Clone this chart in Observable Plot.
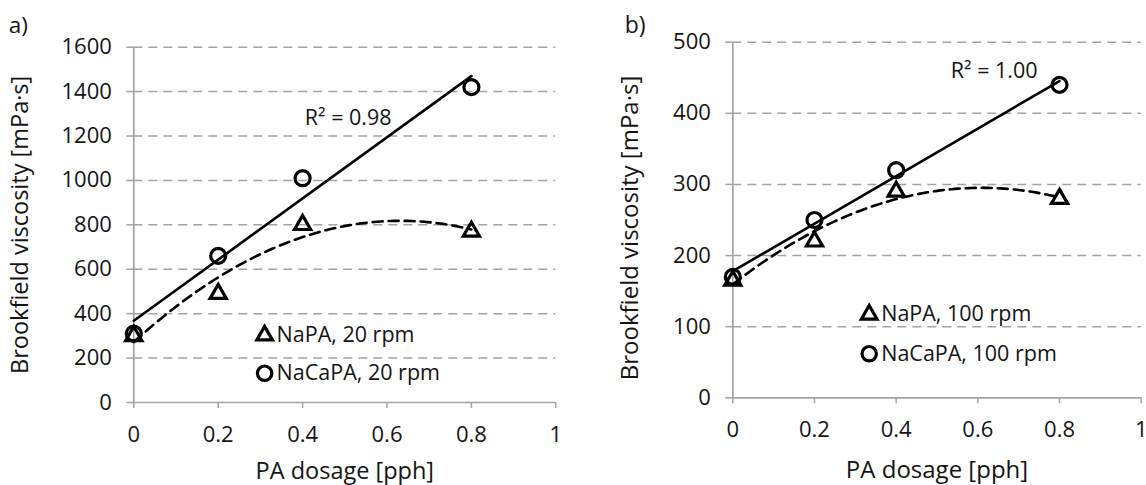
<!DOCTYPE html>
<html><head><meta charset="utf-8">
<script src="https://cdn.jsdelivr.net/npm/d3@7"></script>
<script src="https://cdn.jsdelivr.net/npm/@observablehq/plot@0.6"></script>
<style>
body{margin:0;background:#fff;}
#wrap{display:flex;width:1146px;height:485px;overflow:hidden;}
#wrap svg{display:block;flex:none;}
</style></head>
<body><div id="wrap"></div>
<script>
// ---- data ----
const dosage = [0, 0.2, 0.4, 0.8];
const naPA20 = [300, 490, 800, 770];
const naCaPA20 = [310, 660, 1010, 1420];
const naPA100 = [165, 220, 290, 280];
const naCaPA100 = [170, 250, 320, 440];
const xTicks = [0, 0.2, 0.4, 0.6, 0.8, 1];
const yTicksA = [0, 200, 400, 600, 800, 1000, 1200, 1400, 1600];
const yTicksB = [0, 100, 200, 300, 400, 500];
const legendA = ["NaPA, 20 rpm", "NaCaPA, 20 rpm"];
const legendB = ["NaPA, 100 rpm", "NaCaPA, 100 rpm"];
const xTitle = "PA dosage [pph]";
const yTitle = "Brookfield viscosity [mPa·s]";

// ---- helpers ----
function quadFit(xs, ys) {
  const n = xs.length;
  let s = [0,0,0,0,0], t = [0,0,0];
  for (let i = 0; i < n; i++) {
    const x = xs[i], y = ys[i];
    for (let k = 0; k < 5; k++) s[k] += x ** k;
    for (let k = 0; k < 3; k++) t[k] += y * x ** k;
  }
  const A = [[s[0],s[1],s[2],t[0]],[s[1],s[2],s[3],t[1]],[s[2],s[3],s[4],t[2]]];
  for (let i = 0; i < 3; i++) {
    for (let j = i + 1; j < 3; j++) {
      const f = A[j][i] / A[i][i];
      for (let k = i; k < 4; k++) A[j][k] -= f * A[i][k];
    }
  }
  const c = [0,0,0];
  for (let i = 2; i >= 0; i--) {
    let v = A[i][3];
    for (let k = i + 1; k < 3; k++) v -= A[i][k] * c[k];
    c[i] = v / A[i][i];
  }
  return x => c[0] + c[1] * x + c[2] * x * x;
}
function r2Linear(xs, ys) {
  const mx = d3.mean(xs), my = d3.mean(ys);
  let sxy = 0, sxx = 0, syy = 0;
  xs.forEach((x, i) => { sxy += (x - mx) * (ys[i] - my); sxx += (x - mx) ** 2; syy += (ys[i] - my) ** 2; });
  return (sxy * sxy) / (sxx * syy);
}

function panel(cfg) {
  const tri = dosage.map((x, i) => ({x, y: cfg.tri[i]}));
  const cir = dosage.map((x, i) => ({x, y: cfg.cir[i]}));
  const f = quadFit(dosage, cfg.tri);
  const [x0, x1] = d3.extent(dosage);
  const curve = d3.range(0, 101).map(k => { const x = x0 + (x1 - x0) * k / 100; return {x, y: f(x)}; });
  const r2 = "R² = " + r2Linear(dosage, cfg.cir).toFixed(2);
  const fs = cfg.fs, ts = cfg.ts;
  const ink = "#141414";
  const grey = "#a3a3a3";
  return Plot.plot({
    width: 573, height: 485,
    marginLeft: cfg.ml, marginRight: cfg.mr, marginTop: cfg.mt, marginBottom: cfg.mb,
    style: {fontFamily: "'Open Sans', sans-serif", fontSize: fs + "px", color: ink, background: "#fff", overflow: "visible"},
    x: {domain: [0, 1]},
    y: {domain: [0, cfg.yMax]},
    marks: [
      Plot.gridY(cfg.yTicks.filter(d => d > 0), {stroke: grey, strokeOpacity: 1, strokeWidth: 1.5, strokeDasharray: "9,6"}),
      Plot.axisY({ticks: cfg.yTicks, tickFormat: d => String(d), tickSize: 7, tickPadding: 15, stroke: grey, strokeOpacity: 1, strokeWidth: 1.5, label: null, fontSize: fs + 0.5, fill: ink}),
      Plot.axisX({ticks: xTicks, tickFormat: d => String(d), tickSize: 6, tickPadding: 18, stroke: grey, strokeOpacity: 1, strokeWidth: 1.5, label: null, fontSize: fs + 0.5, fill: ink}),
      Plot.ruleX([0], {stroke: grey, strokeWidth: 1.7}),
      Plot.ruleY([0], {stroke: grey, strokeWidth: 1.7}),
      Plot.linearRegressionY(cir, {x: "x", y: "y", ci: 0, stroke: "#000", strokeWidth: 2.6}),
      Plot.line(curve, {x: "x", y: "y", stroke: "#000", strokeWidth: 2.6, strokeDasharray: "10,6"}),
      Plot.dot(tri, {x: "x", y: "y", symbol: "triangle", r: 6, stroke: "#000", strokeWidth: 3.2, fill: "none"}),
      Plot.dot(cir, {x: "x", y: "y", symbol: "circle", r: 7.5, stroke: "#000", strokeWidth: 3.2, fill: "none"}),
      Plot.text([r2], {x: cfg.r2x, y: cfg.r2y, text: d => d, fontSize: fs, fill: ink, textAnchor: "middle", lineAnchor: "middle"}),
      // legend
      Plot.dot([cfg.legend[0]], {x: cfg.lx, y: cfg.ly[0], symbol: "triangle", r: 5.8, stroke: "#000", strokeWidth: 3.2, fill: "none"}),
      Plot.dot([cfg.legend[1]], {x: cfg.lx, y: cfg.ly[1], symbol: "circle", r: 7.2, stroke: "#000", strokeWidth: 3.2, fill: "none"}),
      Plot.text(cfg.legend, {x: cfg.lx, y: (d, i) => cfg.ly[i], text: d => d, dx: 12, textAnchor: "start", lineAnchor: "middle", fontSize: fs, fill: ink}),
      // titles
      Plot.text([yTitle], {frameAnchor: "left", rotate: -90, dx: cfg.ytdx, dy: cfg.ytdy, text: d => d, textAnchor: "middle", lineAnchor: "middle", fontSize: ts, fill: ink}),
      Plot.text([xTitle], {frameAnchor: "bottom", dy: cfg.xtdy, text: d => d, textAnchor: "middle", lineAnchor: "middle", fontSize: ts, fill: ink}),
      Plot.text([cfg.tag], {frameAnchor: "top-left", dx: cfg.tagdx, dy: cfg.tagdy, text: d => d, textAnchor: "start", lineAnchor: "middle", fontSize: ts - 1, fill: ink})
    ]
  });
}

const wrap = document.getElementById("wrap");
wrap.append(panel({
  tri: naPA20, cir: naCaPA20, yTicks: yTicksA, yMax: 1600, fs: 21.5, ts: 23.5,
  ml: 133.3, mr: 17.7, mt: 46.7, mb: 83,
  r2x: 0.508, r2y: 1280, lx: 0.31, ly: [302, 132], legend: legendA,
  ytdx: -113, ytdy: 0, xtdy: 69, tag: "a)", tagdx: -125, tagdy: -21.7
}));
wrap.append(panel({
  tri: naPA100, cir: naCaPA100, yTicks: yTicksB, yMax: 500, fs: 21.5, ts: 24,
  ml: 159.3, mr: 5.3, mt: 41.7, mb: 87.7,
  r2x: 0.64, r2y: 460, lx: 0.334, ly: [117, 62], legend: legendB,
  ytdx: -102, ytdy: 8, xtdy: 73, tag: "b)", tagdx: -108, tagdy: -16.7
}));
</script>
</body></html>
